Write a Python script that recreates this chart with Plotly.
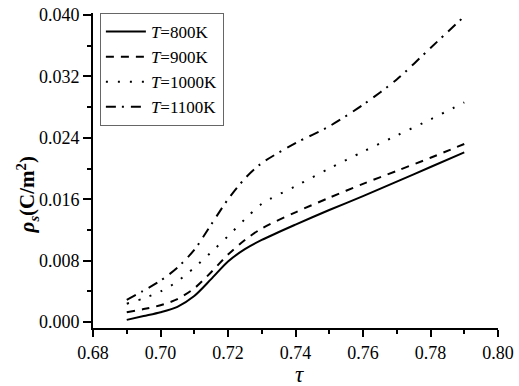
import plotly.graph_objects as go

tau = [0.69, 0.695, 0.70, 0.705, 0.71, 0.715, 0.72, 0.725, 0.73, 0.74, 0.75, 0.76, 0.77, 0.78, 0.79]
rho_800 = [0.0003, 0.0008, 0.0013, 0.0020, 0.0034, 0.0056, 0.0079, 0.0095, 0.0107, 0.0127, 0.0146, 0.0164, 0.0183, 0.0202, 0.0221]
rho_900 = [0.0013, 0.0017, 0.0022, 0.0030, 0.0044, 0.0065, 0.0088, 0.0107, 0.0122, 0.0143, 0.0162, 0.0180, 0.0197, 0.0214, 0.0232]
rho_1000 = [0.0024, 0.0031, 0.0040, 0.0053, 0.0071, 0.0091, 0.0112, 0.0134, 0.0154, 0.0177, 0.0200, 0.0222, 0.0243, 0.0264, 0.0286]
rho_1100 = [0.0029, 0.0041, 0.0054, 0.0071, 0.0094, 0.0127, 0.0160, 0.0187, 0.0207, 0.0233, 0.0255, 0.0283, 0.0316, 0.0357, 0.0398]
labels = ["<i>T</i>=800K", "<i>T</i>=900K", "<i>T</i>=1000K", "<i>T</i>=1100K"]
dashes = ["solid", "8px,7px", "2px,10px", "10px,6px,2px,7px"]
x_ticks = [0.68, 0.70, 0.72, 0.74, 0.76, 0.78, 0.80]
x_ticktext = ["0.68", "0.70", "0.72", "0.74", "0.76", "0.78", "0.80"]
y_ticks = [0.0, 0.008, 0.016, 0.024, 0.032, 0.040]
y_ticktext = ["0.000", "0.008", "0.016", "0.024", "0.032", "0.040"]

fig = go.Figure()
for ys, lab, d in zip([rho_800, rho_900, rho_1000, rho_1100], labels, dashes):
    fig.add_trace(go.Scatter(x=tau, y=ys, mode="lines", name=lab,
                             line=dict(color="black", width=2, dash=d, shape="spline", smoothing=0.8)))

font = "Liberation Serif"
fig.update_layout(
    width=519, height=386,
    margin=dict(l=93, r=16, t=5, b=58),
    plot_bgcolor="white", paper_bgcolor="white",
    font=dict(family=font, size=18, color="black"),
    showlegend=True,
    legend=dict(x=0.017, y=1.0, xanchor="left", yanchor="top",
                bordercolor="#666", borderwidth=1, bgcolor="white",
                font=dict(family=font, size=17), tracegroupgap=0, itemwidth=40),
    xaxis=dict(range=[0.68, 0.80], tickvals=x_ticks, ticktext=x_ticktext,
               tickfont=dict(family=font, size=18), ticklabeloverflow="allow",
               showgrid=False, zeroline=False, showline=True, linecolor="black", linewidth=2,
               ticks="outside", ticklen=7, tickwidth=2, tickcolor="black",
               minor=dict(dtick=0.01, tick0=0.68, ticks="outside", ticklen=4, tickwidth=1.5, tickcolor="black")),
    yaxis=dict(range=[-0.00076, 0.04025], tickvals=y_ticks, ticktext=y_ticktext,
               tickfont=dict(family=font, size=18), ticklabeloverflow="allow",
               showgrid=False, zeroline=False, showline=True, linecolor="black", linewidth=2,
               ticks="outside", ticklen=8, tickwidth=2, tickcolor="black",
               minor=dict(dtick=0.004, tick0=0.0, ticks="outside", ticklen=4, tickwidth=1.5, tickcolor="black")),
    annotations=[
        dict(text="<i>τ</i>", xref="paper", yref="paper", x=0.51, y=-0.148,
             xanchor="center", yanchor="middle", showarrow=False,
             font=dict(family=font, size=23)),
        dict(text="<b><i>ρ</i><sub><i>s</i></sub>(C/m<sup>2</sup>)</b>", xref="paper", yref="paper",
             x=-0.163, y=0.424, xanchor="center", yanchor="middle", textangle=-90, showarrow=False,
             font=dict(family=font, size=21)),
    ],
)
fig.write_html("out.html", config={"displayModeBar": False},
               post_script="document.body.style.margin='0';document.body.style.overflow='hidden';")
